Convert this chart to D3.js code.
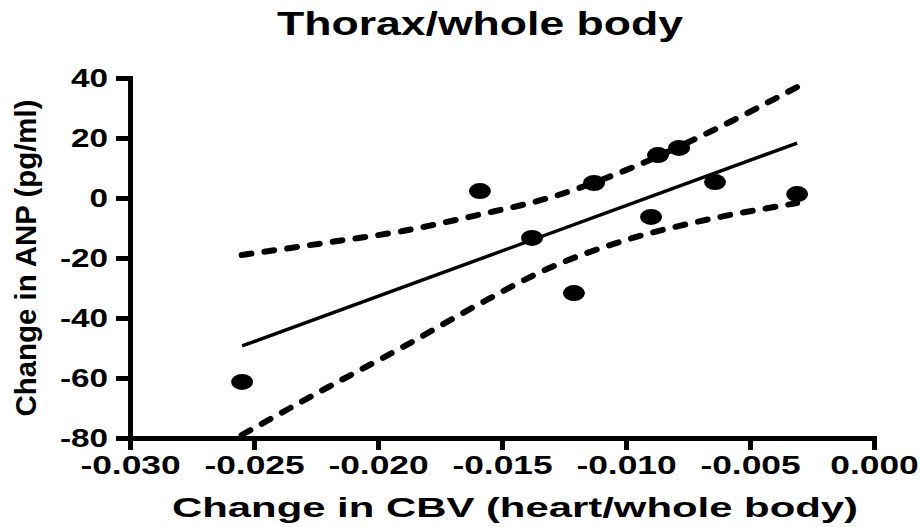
<!DOCTYPE html>
<html>
<head>
<meta charset="utf-8">
<script src="https://cdn.jsdelivr.net/npm/d3@7"></script>
<style>
  body { margin: 0; background: #fff; }
  text { font-family: "Liberation Sans", Arial, sans-serif; font-weight: bold; fill: #000; }
</style>
</head>
<body>
<script>
// Chart size
const width = 921;
const height = 527;

// Data
const cbvChange = [-0.02548, -0.01589, -0.01379, -0.0121, -0.01129, -0.00899, -0.00871, -0.00786, -0.00641, -0.0031];
const anpChange = [-61.3, 2.3, -13.3, -31.7, 5, -6.3, 14.3, 16.7, 5.3, 1.3];

// Fitted line end points
const fitX = [-0.02548, -0.0031];
const fitY = [-49.3, 18.3];

// Confidence band (dashed curves)
const bandX = [-0.0255, -0.022, -0.019, -0.016, -0.013, -0.010, -0.007, -0.0031];
const bandUpper = [-19, -14.8, -11, -5.7, 0.3, 9.3, 20.5, 37];
const bandLower = [-79, -63, -49.7, -35.7, -23, -14, -7.7, -1.7];

// Axis ticks
const xTicks = [-0.030, -0.025, -0.020, -0.015, -0.010, -0.005, 0];
const xTickLabels = ["-0.030", "-0.025", "-0.020", "-0.015", "-0.010", "-0.005", "0.000"];
const yTicks = [-80, -60, -40, -20, 0, 20, 40];
const yTickLabels = ["-80", "-60", "-40", "-20", "0", "20", "40"];

const svg = d3.select("body")
  .append("svg")
  .attr("width", width)
  .attr("height", height);

// Scales
const x = d3.scaleLinear().domain([-0.030, 0]).range([130, 874]);
const y = d3.scaleLinear().domain([-80, 40]).range([438, 78]);

// stretch text horizontally like the reference
function stretch(sel, k) {
  sel.each(function () {
    const w = this.getComputedTextLength();
    d3.select(this)
      .attr("textLength", w * k)
      .attr("lengthAdjust", "spacingAndGlyphs");
  });
}

// Axes
const xAxis = d3.axisBottom(x)
  .tickValues(xTicks)
  .tickFormat((d, i) => xTickLabels[i])
  .tickSize(12)
  .tickSizeOuter(0)
  .tickPadding(6);

const yAxis = d3.axisLeft(y)
  .tickValues(yTicks)
  .tickFormat((d, i) => yTickLabels[i])
  .tickSize(14)
  .tickSizeOuter(0)
  .tickPadding(8);

const gx = svg.append("g")
  .attr("transform", "translate(0,438)")
  .call(xAxis);

const gy = svg.append("g")
  .attr("transform", "translate(130,0)")
  .call(yAxis);

[gx, gy].forEach(g => {
  g.select(".domain").attr("stroke", "#000").attr("stroke-width", 5).attr("stroke-linecap", "square");
  g.selectAll(".tick line").attr("stroke", "#000").attr("stroke-width", 5);
  g.selectAll(".tick text")
    .attr("font-size", 26)
    .attr("font-family", "'Liberation Sans', Arial, sans-serif")
    .attr("font-weight", "bold");
});
gx.selectAll(".tick text").call(stretch, 1.36);
gy.selectAll(".tick text").call(stretch, 1.28);

// Confidence band curves
const bandLine = vals => d3.line()
  .x((d, i) => x(bandX[i]))
  .y((d, i) => y(vals[i]))
  .curve(d3.curveMonotoneX)(vals);

[bandUpper, bandLower].forEach(vals => {
  svg.append("path")
    .attr("d", bandLine(vals))
    .attr("fill", "none")
    .attr("stroke", "#000")
    .attr("stroke-width", 6)
    .attr("stroke-linecap", "round")
    .attr("stroke-dasharray", "10,13");
});

// Regression line
svg.append("line")
  .attr("x1", x(fitX[0]))
  .attr("y1", y(fitY[0]))
  .attr("x2", x(fitX[1]))
  .attr("y2", y(fitY[1]))
  .attr("stroke", "#000")
  .attr("stroke-width", 3.5);

// Data points
svg.selectAll("ellipse.pt")
  .data(cbvChange)
  .enter()
  .append("ellipse")
  .attr("class", "pt")
  .attr("cx", d => x(d))
  .attr("cy", (d, i) => y(anpChange[i]))
  .attr("rx", 11)
  .attr("ry", 8)
  .attr("fill", "#000");

// Title
svg.append("text")
  .attr("x", 480)
  .attr("y", 35)
  .attr("text-anchor", "middle")
  .attr("font-size", 33)
  .attr("textLength", 406)
  .attr("lengthAdjust", "spacingAndGlyphs")
  .text("Thorax/whole body");

// X axis title
svg.append("text")
  .attr("x", 515)
  .attr("y", 517)
  .attr("text-anchor", "middle")
  .attr("font-size", 28)
  .attr("textLength", 686)
  .attr("lengthAdjust", "spacingAndGlyphs")
  .text("Change in CBV (heart/whole body)");

// Y axis title
svg.append("text")
  .attr("transform", "translate(36,258) rotate(-90)")
  .attr("text-anchor", "middle")
  .attr("font-size", 30)
  .attr("textLength", 317)
  .attr("lengthAdjust", "spacingAndGlyphs")
  .text("Change in ANP (pg/ml)");
</script>
</body>
</html>
